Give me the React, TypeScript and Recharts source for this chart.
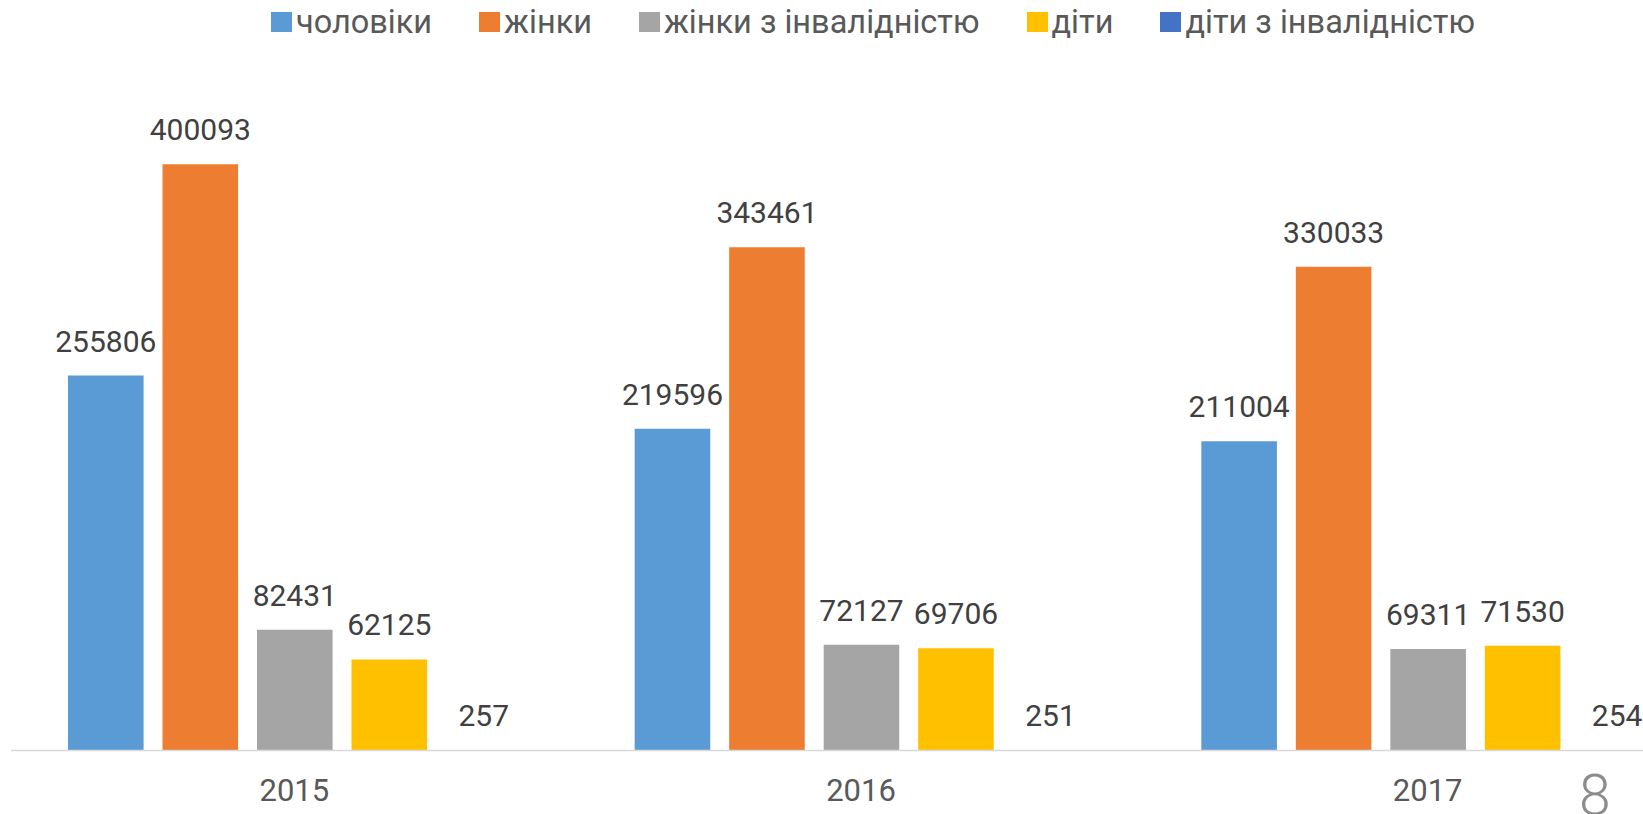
import React from 'react';
import { BarChart, Bar, XAxis, YAxis, Legend, LabelList } from 'recharts';

const categories = ['2015', '2016', '2017'];
const men = [255806, 219596, 211004];
const women = [400093, 343461, 330033];
const womenDisabled = [82431, 72127, 69311];
const children = [62125, 69706, 71530];
const childrenDisabled = [257, 251, 254];

const seriesNames = ['чоловіки', 'жінки', 'жінки з інвалідністю', 'діти', 'діти з інвалідністю'];
const seriesKeys = ['men', 'women', 'womenDisabled', 'children', 'childrenDisabled'];
const seriesColors = ['#5B9BD5', '#ED7D31', '#A5A5A5', '#FFC000', '#4472C4'];
const pageNumber = '8';

const data = categories.map((year, i) => ({
  year,
  men: men[i],
  women: women[i],
  womenDisabled: womenDisabled[i],
  children: children[i],
  childrenDisabled: childrenDisabled[i],
}));

const FONT = 'Roboto, "Noto Sans", sans-serif';

const renderLegend = (props: any) => {
  const payload = [...(props.payload || [])].sort(
    (a: any, b: any) => seriesNames.indexOf(a.value) - seriesNames.indexOf(b.value)
  );
  return (
    <div
      style={{
        display: 'flex',
        alignItems: 'center',
        height: 44,
        paddingLeft: 271,
        fontFamily: FONT,
        fontSize: 32.5,
        color: '#595959',
        whiteSpace: 'nowrap',
      }}
    >
      {payload.map((entry: any, i: number) => (
        <div key={i} style={{ display: 'flex', alignItems: 'center', marginRight: 47 }}>
          <div style={{ width: 21, height: 20, background: entry.color, marginRight: 4 }} />
          <span>{entry.value}</span>
        </div>
      ))}
    </div>
  );
};

export default function App() {
  return (
    <div
      style={{
        position: 'fixed',
        left: 0,
        top: 0,
        width: 1643,
        height: 814,
        overflow: 'hidden',
        background: '#ffffff',
      }}
    >
      <BarChart
        width={1712}
        height={814}
        data={data}
        margin={{ top: 91, right: 1, bottom: 23.5, left: 11 }}
        barSize={75.6}
        barGap={18.9}
        style={{ fontFamily: FONT }}
      >
        <XAxis
          dataKey="year"
          axisLine={{ stroke: '#D9D9D9', strokeWidth: 1.5 }}
          tickLine={false}
          tickSize={6}
          tickMargin={22}
          height={40}
          tick={{ fill: '#595959', fontSize: 31, fontFamily: FONT }}
        />
        <YAxis hide domain={[0, 450000]} />
        <Legend
          layout="horizontal"
          verticalAlign="middle"
          align="center"
          itemSorter={null as any}
          wrapperStyle={{ top: 0, left: 0, width: 1643, height: 44 }}
          content={renderLegend}
        />
        {seriesKeys.map((k, i) => (
          <Bar
            key={k}
            dataKey={k}
            name={seriesNames[i]}
            fill={seriesColors[i]}
            isAnimationActive={false}
          >
            <LabelList
              dataKey={k}
              position="top"
              offset={24}
              fill="#404040"
              fontSize={30}
              fontFamily={FONT}
            />
          </Bar>
        ))}
      </BarChart>
      <div
        style={{
          position: 'absolute',
          left: 1579,
          top: 767,
          fontFamily: FONT,
          fontSize: 57,
          lineHeight: '57px',
          fontWeight: 300,
          color: '#8C8C8C',
        }}
      >
        {pageNumber}
      </div>
    </div>
  );
}
